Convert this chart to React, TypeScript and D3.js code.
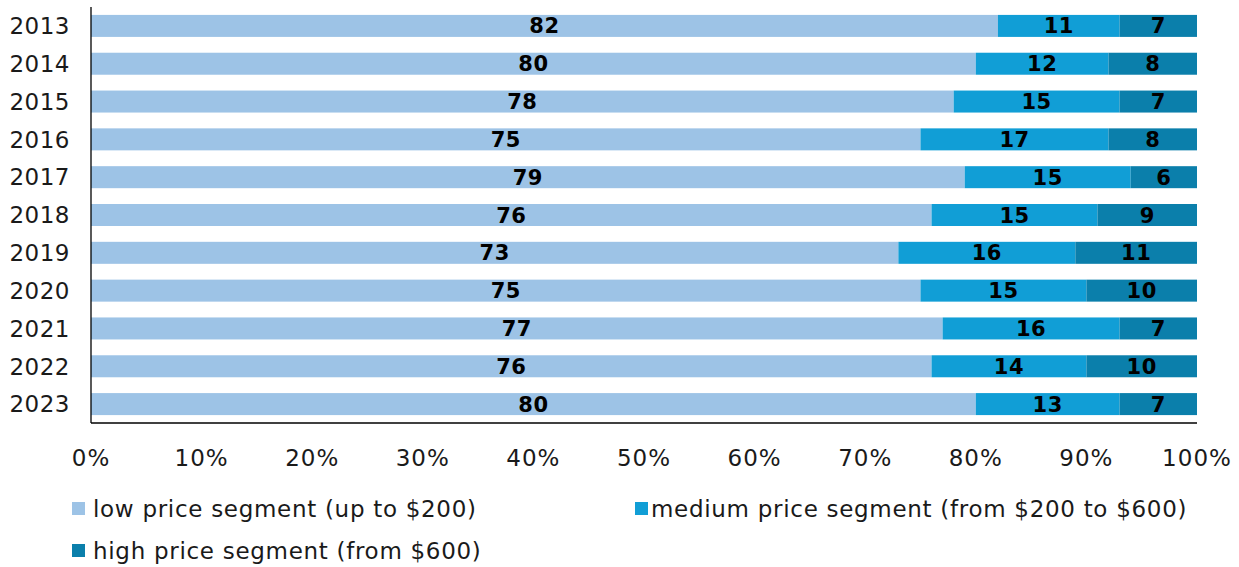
import React from "react";
import * as d3 from "d3";

const years = ["2013","2014","2015","2016","2017","2018","2019","2020","2021","2022","2023"];
const lowValues = [82, 80, 78, 75, 79, 76, 73, 75, 77, 76, 80];
const mediumValues = [11, 12, 15, 17, 15, 15, 16, 15, 16, 14, 13];
const highValues = [7, 8, 7, 8, 6, 9, 11, 10, 7, 10, 7];
const xTicks = [0, 10, 20, 30, 40, 50, 60, 70, 80, 90, 100];
const seriesNames = [
  "low price segment (up to $200)",
  "medium price segment (from $200 to $600)",
  "high price segment (from $600)",
];
const colors = ["#9dc3e6", "#119ed6", "#0b7fab"];

const W = 1239, H = 567;
const FONT = "'DejaVu Sans', Verdana, sans-serif";

export default function App() {
  const x = d3.scaleLinear().domain([0, 100]).range([91, 1197]);
  const y = d3.scaleBand<string>().domain(years).range([7, 423]).padding(0);
  const barH = 22;
  const table = years.map((yr, i) => ({ year: yr, low: lowValues[i], medium: mediumValues[i], high: highValues[i] }));
  const stack = d3.stack<any>().keys(["low", "medium", "high"])(table);

  const legend = [
    { name: seriesNames[0], color: colors[0], mx: 72, tx: 93, cy: 509 },
    { name: seriesNames[1], color: colors[1], mx: 635, tx: 651, cy: 509 },
    { name: seriesNames[2], color: colors[2], mx: 72, tx: 93, cy: 551 },
  ];

  return (
    <svg width={W} height={H} style={{ position: "absolute", left: 0, top: 0, background: "#fff" }} fontFamily={FONT}>
      {stack.map((s, si) => (
        <g key={si}>
          {s.map((d, i) => {
            const yc = (y(years[i]) as number) + y.bandwidth() / 2;
            return (
              <g key={i}>
                <rect x={x(d[0])} y={yc - barH / 2} width={x(d[1]) - x(d[0])} height={barH} fill={colors[si]} />
                <text x={(x(d[0]) + x(d[1])) / 2} y={yc} dy="0.36em" textAnchor="middle" fontSize={21} fontWeight="bold" letterSpacing={0.5} fill="#000">
                  {d[1] - d[0]}
                </text>
              </g>
            );
          })}
        </g>
      ))}
      <line x1={91} x2={91} y1={7} y2={423} stroke="#000" strokeWidth={1.3} />
      <line x1={91} x2={1197} y1={423} y2={423} stroke="#000" strokeWidth={1.3} />
      {years.map((yr) => (
        <text key={yr} x={70} y={(y(yr) as number) + y.bandwidth() / 2} dy="0.36em" textAnchor="end" fontSize={23} letterSpacing={0.5} fill="#1a1a1a">
          {yr}
        </text>
      ))}
      {xTicks.map((t) => (
        <text key={t} x={x(t)} y={458} dy="0.36em" textAnchor="middle" fontSize={23} letterSpacing={1} fill="#1a1a1a">
          {t + "%"}
        </text>
      ))}
      {legend.map((l, i) => (
        <g key={i}>
          <rect x={l.mx} y={l.cy - 7} width={13} height={13} fill={l.color} />
          <text x={l.tx} y={l.cy} dy="0.36em" fontSize={23} letterSpacing={0.7} fill="#1a1a1a">{l.name}</text>
        </g>
      ))}
    </svg>
  );
}
